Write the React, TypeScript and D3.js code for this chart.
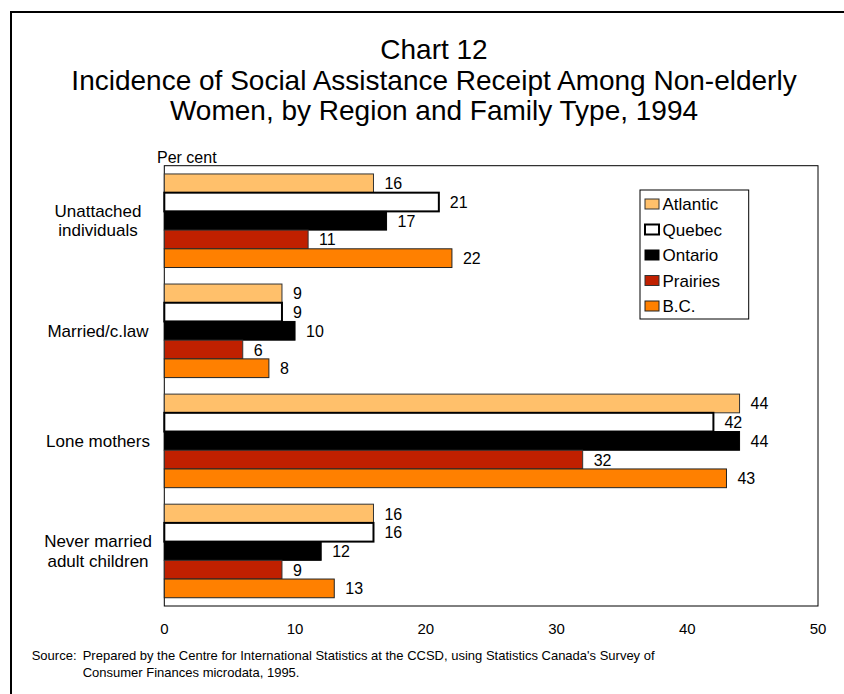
import React from 'react';
import * as d3 from 'd3';

const categories = [
  ['Unattached', 'individuals'],
  ['Married/c.law'],
  ['Lone mothers'],
  ['Never married', 'adult children'],
];
const seriesNames = ['Atlantic', 'Quebec', 'Ontario', 'Prairies', 'B.C.'];
const atlantic = [16, 9, 44, 16];
const quebec = [21, 9, 42, 16];
const ontario = [17, 10, 44, 12];
const prairies = [11, 6, 32, 9];
const bc = [22, 8, 43, 13];
const xTicks = [0, 10, 20, 30, 40, 50];

const seriesValues = [atlantic, quebec, ontario, prairies, bc];
const fills = ['#FFC06B', '#FFFFFF', '#000000', '#C02000', '#FF8000'];
const strokes = ['#333333', '#000000', '#000000', '#333333', '#222222'];
const strokeWidths = [1, 2, 1, 1, 1];

const titleLines = [
  'Chart 12',
  'Incidence of Social Assistance Receipt Among Non-elderly',
  'Women, by Region and Family Type, 1994',
];

const font = '"Liberation Sans", Arial, Helvetica, sans-serif';

const W = 844;
const H = 694;
const plot = { left: 164.3, right: 818, top: 165.7, bottom: 606 };

const App: React.FC = () => {
  const x = d3.scaleLinear().domain([0, 50]).range([plot.left, plot.right]);
  const y0 = d3
    .scaleBand<number>()
    .domain(d3.range(categories.length))
    .range([plot.top, plot.bottom])
    .paddingInner(0.15)
    .paddingOuter(0.075);
  const y1 = d3
    .scaleBand<number>()
    .domain(d3.range(seriesNames.length))
    .range([0, y0.bandwidth()]);

  return (
    <svg
      width={W}
      height={H}
      style={{ position: 'absolute', left: 0, top: 0, background: '#fff' }}
      fontFamily={font}
    >
      <rect x={11} y={12} width={900} height={900} fill="none" stroke="#000" strokeWidth={2} />

      {titleLines.map((t, i) => (
        <text key={i} x={434} y={59 + i * 30.5} textAnchor="middle" fontSize={28} fill="#000">
          {t}
        </text>
      ))}

      <text x={157} y={163} fontSize={16} fill="#000">
        Per cent
      </text>

      <rect
        x={plot.left}
        y={plot.top}
        width={plot.right - plot.left}
        height={plot.bottom - plot.top}
        fill="#fff"
        stroke="#000"
        strokeWidth={1}
      />

      {categories.map((lines, ci) => {
        const cy = (y0(ci) as number) + y0.bandwidth() / 2;
        const lh = 19.5;
        const startY = cy - ((lines.length - 1) * lh) / 2 + 6;
        return (
          <g key={ci}>
            {lines.map((l, li) => (
              <text key={li} x={98} y={startY + li * lh} textAnchor="middle" fontSize={17} fill="#000">
                {l}
              </text>
            ))}
            {seriesValues.map((vals, si) => {
              const by = (y0(ci) as number) + (y1(si) as number);
              const bh = y1.bandwidth();
              return (
                <g key={si}>
                  <rect
                    x={x(0)}
                    y={by}
                    width={x(vals[ci]) - x(0)}
                    height={bh}
                    fill={fills[si]}
                    stroke={strokes[si]}
                    strokeWidth={strokeWidths[si]}
                  />
                  <text x={x(vals[ci]) + 11} y={by + bh / 2 + 6} fontSize={16} fill="#000">
                    {vals[ci]}
                  </text>
                </g>
              );
            })}
          </g>
        );
      })}

      {xTicks.map((t) => (
        <text key={t} x={x(t)} y={634} textAnchor="middle" fontSize={15} fill="#000">
          {t}
        </text>
      ))}

      <g>
        <rect x={640} y={190} width={108.7} height={129} fill="#fff" stroke="#000" strokeWidth={1} />
        {seriesNames.map((s, i) => (
          <g key={s} transform={`translate(645, ${199 + i * 25.5})`}>
            <rect
              width={14}
              height={10}
              fill={fills[i]}
              stroke={strokes[i]}
              strokeWidth={strokeWidths[i]}
            />
            <text x={17.5} y={11} fontSize={17} fill="#000">
              {s}
            </text>
          </g>
        ))}
      </g>

      <text x={31.7} y={660} fontSize={13} fill="#000">
        Source:
      </text>
      <text x={82.7} y={660} fontSize={13} fill="#000">
        Prepared by the Centre for International Statistics at the CCSD, using Statistics Canada's Survey of
      </text>
      <text x={82.7} y={677} fontSize={13} fill="#000">
        Consumer Finances microdata, 1995.
      </text>
    </svg>
  );
};

export default App;
